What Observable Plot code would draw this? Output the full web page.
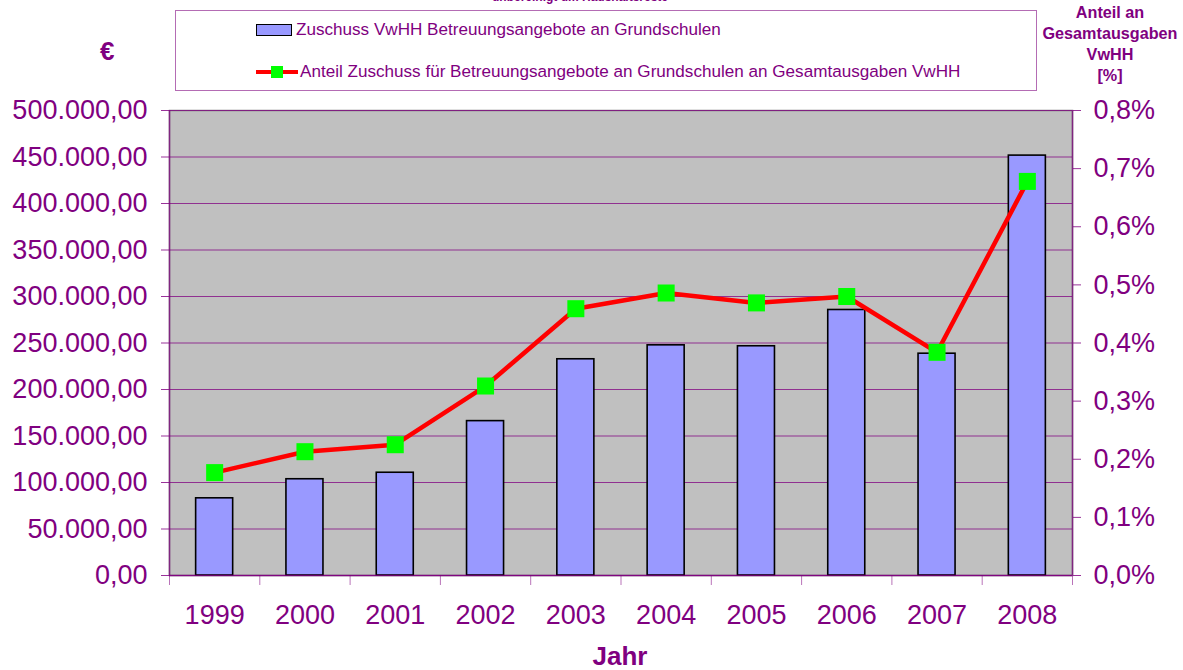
<!DOCTYPE html>
<html><head><meta charset="utf-8">
<script src="https://cdn.jsdelivr.net/npm/d3@7"></script>
<script src="https://cdn.jsdelivr.net/npm/@observablehq/plot@0.6"></script>
<style>
body{margin:0;background:#fff;font-family:"Liberation Sans",Arial,sans-serif;}
#wrap{position:relative;width:1183px;height:670px;overflow:hidden;}
#chart{position:absolute;left:0;top:0;}
.ov{position:absolute;color:#800080;white-space:nowrap;}
#legend{position:absolute;left:175px;top:10px;width:862px;height:81px;border:1.5px solid #B46CB4;background:#fff;box-sizing:border-box;}
.li{position:absolute;left:80px;font-size:17.1px;color:#800080;display:flex;align-items:center;}
</style>
</head><body>
<div id="wrap">
<div id="chart"></div>
<div class="ov" style="left:0;width:1160px;text-align:center;top:-10px;font-size:12px;font-weight:bold;">unbereinigt um Haushaltsreste</div>
<div id="legend">
  <div class="li" style="top:9px;"><span style="display:inline-block;width:34px;height:10px;background:#9999FF;border:1.5px solid #000;margin-right:4px;"></span><span id="l1"></span></div>
  <div class="li" style="top:51px;"><svg width="42" height="14" style="margin-right:2px"><line x1="0" y1="7" x2="42" y2="7" stroke="#FF0000" stroke-width="4"/><rect x="15" y="1" width="12" height="12" fill="#00FF00"/></svg><span id="l2"></span></div>
</div>
<div class="ov" style="left:100px;top:36px;font-size:26px;font-weight:bold;">€</div>
<div class="ov" style="left:1040px;width:140px;text-align:center;top:2px;font-size:16.2px;font-weight:bold;line-height:21px;">Anteil an<br>Gesamtausgaben<br>VwHH<br>[%]</div>
<div class="ov" style="left:0;width:1240px;text-align:center;top:643px;font-size:26px;line-height:26px;font-weight:bold;">Jahr</div>
</div>
<script>
const years = [1999, 2000, 2001, 2002, 2003, 2004, 2005, 2006, 2007, 2008];
const zuschuss = [83000, 103500, 110500, 166000, 232500, 247500, 246500, 285500, 238500, 451500];
const anteil = [0.177, 0.213, 0.225, 0.326, 0.459, 0.486, 0.469, 0.480, 0.384, 0.678];
const seriesNames = ["Zuschuss VwHH Betreuungsangebote an Grundschulen",
  "Anteil Zuschuss für Betreuungsangebote an Grundschulen an Gesamtausgaben VwHH"];
const leftTicks = [0, 50000, 100000, 150000, 200000, 250000, 300000, 350000, 400000, 450000, 500000];
const rightTicks = [0, 0.1, 0.2, 0.3, 0.4, 0.5, 0.6, 0.7, 0.8];

document.getElementById("l1").textContent = seriesNames[0];
document.getElementById("l2").textContent = seriesNames[1];

const yMax = 500000, pMax = 0.8;
const toLeft = p => p / pMax * yMax;
const data = years.map((y, i) => ({year: y, value: zuschuss[i], pct: anteil[i], py: toLeft(anteil[i])}));
const de = d3.formatLocale({decimal: ",", thousands: ".", grouping: [3], currency: ["", "€"]});
const fmtL = de.format(",.2f");
const bounds = [...years.map(y => y - 0.5), years[years.length - 1] + 0.5];
const halfBar = 0.205;
const purple = "#800080";

const chart = Plot.plot({
  width: 1183, height: 670,
  marginLeft: 169, marginRight: 111, marginTop: 110, marginBottom: 95,
  style: {fontFamily: "'Liberation Sans', Arial, sans-serif", background: "transparent"},
  x: {domain: [bounds[0], bounds[bounds.length - 1]]},
  y: {domain: [0, yMax]},
  marks: [
    Plot.frame({fill: "#C0C0C0", stroke: "#808080", strokeWidth: 1.5}),
    Plot.gridY(leftTicks, {stroke: purple, strokeOpacity: 0.75, strokeWidth: 1.2}),
    Plot.rectY(data, {x1: d => d.year - halfBar, x2: d => d.year + halfBar, y: "value", fill: "#9999FF", stroke: "#000", strokeWidth: 1.6}),
    Plot.ruleX([bounds[0], bounds[bounds.length - 1]], {stroke: purple, strokeOpacity: 0.7, strokeWidth: 1.5}),
    Plot.ruleY([0], {stroke: purple, strokeOpacity: 0.8, strokeWidth: 1.5}),
    Plot.axisY(leftTicks, {anchor: "left", tickFormat: fmtL, tickSize: 8, tickPadding: 14, fontSize: 27, color: purple, stroke: purple, strokeOpacity: 0.8, label: null}),
    Plot.axisY(rightTicks.map(toLeft), {anchor: "right", tickFormat: d => (d / yMax * pMax).toFixed(1).replace(".", ",") + "%", tickSize: 8, tickPadding: 13, fontSize: 27, color: purple, stroke: purple, strokeOpacity: 0.8, label: null}),
    Plot.axisX(bounds, {anchor: "bottom", tickSize: 10, tickFormat: () => "", stroke: purple, strokeOpacity: 0.55, label: null}),
    Plot.axisX(years, {anchor: "bottom", tickSize: 0, tickPadding: 29, tickFormat: d => String(d), fontSize: 27, color: purple, label: null}),
    Plot.line(data, {x: "year", y: "py", stroke: "#FF0000", strokeWidth: 4.5}),
    Plot.dot(data, {x: "year", y: "py", symbol: "square", r: 9.6, fill: "#00FF00", stroke: "none"})
  ]
});
document.getElementById("chart").appendChild(chart);
</script>
</body></html>
